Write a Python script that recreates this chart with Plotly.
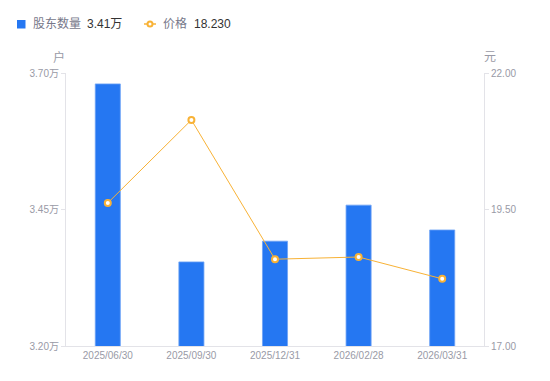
import plotly.graph_objects as go

categories = ["2025/06/30", "2025/09/30", "2025/12/31", "2026/02/28", "2026/03/31"]
holders = [3.680, 3.354, 3.392, 3.458, 3.4125]   # 万户
prices = [19.62, 21.14, 18.59, 18.63, 18.23]      # 元
left_ticks = [3.20, 3.45, 3.70]
left_labels = ["3.20万", "3.45万", "3.70万"]
right_ticks = [17.0, 19.5, 22.0]
right_labels = ["17.00", "19.50", "22.00"]

BLUE = "#2577F2"
ORANGE = "#F8B236"
GREY = "#999AA6"
FONT = "Liberation Sans, Noto Sans CJK SC, sans-serif"

OFF = 8  # page body margin of the browser
W, H = 550 - OFF, 381 - OFF
L, R, T, B = 66 - OFF, 66, 73 - OFF, 35
pw, ph = W - L - R, H - T - B


def px(x):
    # x in screenshot pixels -> paper coords
    return (x - OFF - L) / pw


def py(y):
    return (H - B - (y - OFF)) / ph


fig = go.Figure()
fig.add_trace(go.Bar(
    x=categories, y=holders, name="股东数量",
    marker=dict(color=BLUE, line=dict(color="#6FA3F5", width=0.8)),
    width=0.3, yaxis="y",
))
fig.add_trace(go.Scatter(
    x=categories, y=prices, name="价格",
    mode="lines+markers", yaxis="y2",
    line=dict(color=ORANGE, width=1),
    marker=dict(symbol="circle", size=6, color="white", line=dict(color=ORANGE, width=2)),
))

fig.update_layout(
    width=W, height=H,
    margin=dict(l=L, r=R, t=T, b=B, autoexpand=False),
    paper_bgcolor="white", plot_bgcolor="white",
    font=dict(family=FONT, size=11, color=GREY),
    showlegend=False,
    xaxis=dict(type="category", showgrid=False, showline=True, linecolor="#E3E3E8",
               linewidth=1, ticks="", tickfont=dict(size=10, color=GREY), automargin=False),
    yaxis=dict(range=[3.20, 3.70], tickvals=left_ticks, ticktext=left_labels,
               showgrid=False, showline=True, linecolor="#E3E3E8", linewidth=1,
               ticks="outside", ticklen=4, tickcolor="#E3E3E8", automargin=False,
               tickfont=dict(size=10, color=GREY), zeroline=False),
    yaxis2=dict(range=[17.0, 22.0], tickvals=right_ticks, ticktext=right_labels,
                overlaying="y", side="right", showgrid=False, showline=True,
                linecolor="#E3E3E8", linewidth=1, ticks="outside", ticklen=4, automargin=False,
                tickcolor="#E3E3E8", tickfont=dict(size=10, color=GREY), zeroline=False),
)


def label(text, x, y, color, anchor="left", size=12):
    fig.add_annotation(text=text, x=px(x), y=py(y), xref="paper", yref="paper",
                       xanchor=anchor, yanchor="middle", showarrow=False,
                       font=dict(size=size, color=color))


# unit labels
label("户", 59, 57, GREY, anchor="center")
label("元", 490, 57, GREY, anchor="center")

# custom legend
fig.add_shape(type="rect", xref="paper", yref="paper",
              x0=px(17), x1=px(25.5), y0=py(28.5), y1=py(20), fillcolor=BLUE,
              line=dict(width=0))
label("股东数量", 31, 24, "#77788A")
label("3.41万", 85, 24, "#333333")
fig.add_shape(type="line", xref="paper", yref="paper",
              x0=px(144), x1=px(156), y0=py(24), y1=py(24), line=dict(color=ORANGE, width=1.5))
fig.add_shape(type="circle", xref="paper", yref="paper",
              x0=px(147.5), x1=px(152.5), y0=py(26.5), y1=py(21.5),
              fillcolor="white", line=dict(color=ORANGE, width=2))
label("价格", 161, 24, "#77788A")
label("18.230", 192, 24, "#333333")

fig.write_html("out.html")
